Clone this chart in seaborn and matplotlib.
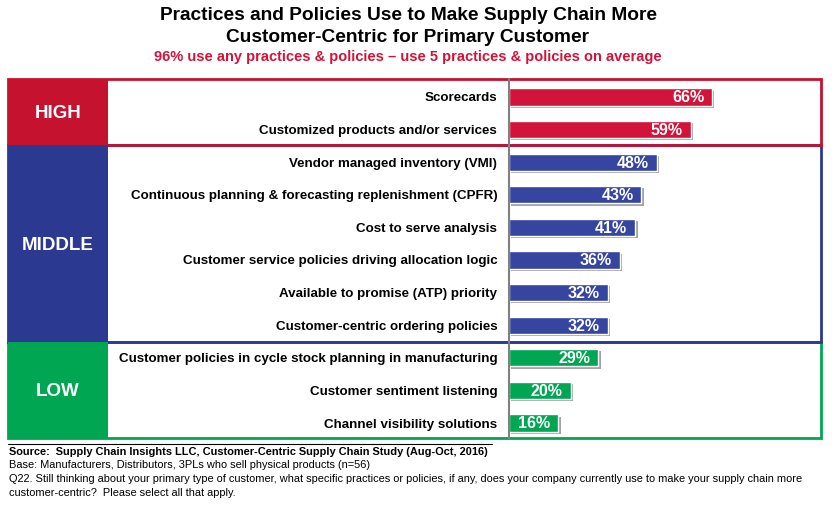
import matplotlib
matplotlib.use("Agg")
import matplotlib.pyplot as plt
import matplotlib.patheffects as pe
from matplotlib.patches import Rectangle
import seaborn as sns
import pandas as pd

# data
practices = [
    "Scorecards",
    "Customized products and/or services",
    "Vendor managed inventory (VMI)",
    "Continuous planning & forecasting replenishment (CPFR)",
    "Cost to serve analysis",
    "Customer service policies driving allocation logic",
    "Available to promise (ATP) priority",
    "Customer-centric ordering policies",
    "Customer policies in cycle stock planning in manufacturing",
    "Customer sentiment listening",
    "Channel visibility solutions",
]
pct = [66, 59, 48, 43, 41, 36, 32, 32, 29, 20, 16]
level = ["HIGH"] * 2 + ["MIDDLE"] * 6 + ["LOW"] * 3
level_names = ["HIGH", "MIDDLE", "LOW"]

title_lines = ["Practices and Policies Use to Make Supply Chain More",
               "Customer-Centric for Primary Customer"]
subtitle = "96% use any practices & policies \u2013 use 5 practices & policies on average"
source = "Source:  Supply Chain Insights LLC, Customer-Centric Supply Chain Study (Aug-Oct, 2016)"
notes = [
    "Base: Manufacturers, Distributors, 3PLs who sell physical products (n=56)",
    "Q22. Still thinking about your primary type of customer, what specific practices or policies, if any, does your company currently use to make your supply chain more",
    "customer-centric?  Please select all that apply.",
]

box_col = {"HIGH": "#C4122F", "MIDDLE": "#2B3990", "LOW": "#00A651"}
bar_col = {"HIGH": "#D2143A", "MIDDLE": "#3545A0", "LOW": "#00A651"}

df = pd.DataFrame({"practice": practices, "pct": pct, "level": level})

sns.set_style("white")
plt.rcParams["font.family"] = ["Liberation Sans", "DejaVu Sans"]
plt.rcParams["text.color"] = "black"
plt.rcParams["ytick.color"] = "black"

fig = plt.figure(figsize=(8.4, 5.05), dpi=100)
fig.patch.set_facecolor("white")

# background axes in pixel coordinates for frames and text
bg = fig.add_axes([0, 0, 1, 1])
bg.set_xlim(0, 840)
bg.set_ylim(505, 0)
bg.axis("off")

# group frames (pixel rows of each band)
bands = {"HIGH": (79, 145), "MIDDLE": (145, 342), "LOW": (342, 438)}
for name in ["LOW", "MIDDLE", "HIGH"]:
    y0, y1 = bands[name]
    bg.add_patch(Rectangle((8, y0), 813, y1 - y0, fill=False,
                           edgecolor=box_col[name], lw=2, zorder=2))
    bg.add_patch(Rectangle((8, y0), 100, y1 - y0, facecolor=box_col[name],
                           edgecolor="none", zorder=3))
    bg.text(58, (y0 + y1) / 2 + 1.5, name, color="white", fontsize=13.5,
            fontweight="bold", ha="center", va="center", zorder=4)

for y, line in zip([16, 38], title_lines):
    bg.text(408, y, line, ha="center", va="center", fontsize=13.8,
            fontweight="bold")
bg.text(408, 57, subtitle, ha="center", va="center", fontsize=10.5,
        fontweight="bold", color="#D2143A")

bg.plot([8, 492], [444, 444], color="black", lw=0.8)
bg.text(9, 452, source, ha="left", va="center", fontsize=7.9,
        fontweight="bold")
for i, line in enumerate(notes):
    bg.text(9, 465.5 + i * 13.5, line, ha="left", va="center", fontsize=7.9)

# bars
ax = fig.add_axes([509 / 840, (505 - 438) / 505, (821 - 509) / 840, (438 - 79) / 505])
ax.patch.set_alpha(0)
sns.barplot(data=df, x="pct", y="practice", hue="level", hue_order=level_names,
            palette=bar_col, saturation=1, orient="h", dodge=False, width=0.53,
            legend=False, ax=ax, zorder=3)
for bar in ax.patches:
    bar.set_path_effects([pe.SimplePatchShadow(offset=(1.6, -1.6),
                                               shadow_rgbFace="#8c8c8c", alpha=0.8),
                          pe.Normal()])
ax.set_xlim(0, 101.3)
ax.set_ylim(10.46, -0.55)
ax.set_xlabel("")
ax.set_ylabel("")
ax.set_xticks([])
ax.tick_params(axis="y", length=0, pad=8.5)
for lab in ax.get_yticklabels():
    lab.set_fontweight("bold")
    lab.set_fontsize(9.6)
for side in ["top", "right", "bottom"]:
    ax.spines[side].set_visible(False)
ax.spines["left"].set_color("#808080")
ax.spines["left"].set_linewidth(1.5)
ax.spines["left"].set_zorder(6)

for i, v in enumerate(pct):
    ax.text(v - 2.6, i + 0.03, f"{v}%", color="white", fontsize=11.5,
            fontweight="bold", ha="right", va="center", zorder=5)

fig.savefig("out.png", dpi=100)
